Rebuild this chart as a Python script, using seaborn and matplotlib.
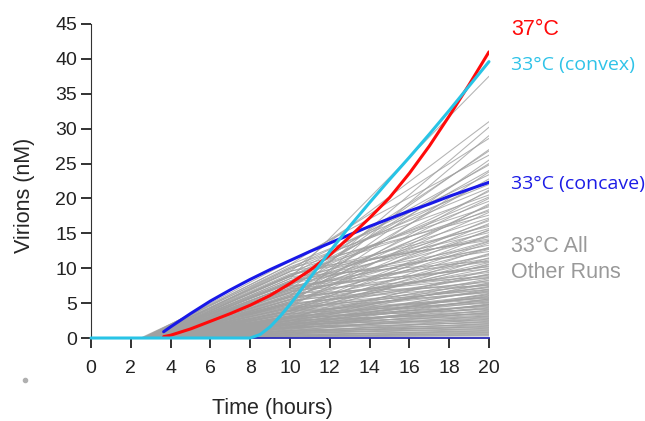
import matplotlib
matplotlib.use("Agg")
import matplotlib.pyplot as plt
import seaborn as sns
import pandas as pd

# highlighted runs (hours, nM)
red_t = [3.65, 4, 5, 6, 7, 8, 9, 10, 11, 12, 13, 14, 15, 16, 17, 18, 19, 20]
red_v = [0.2, 0.4, 1.3, 2.4, 3.5, 4.7, 6.1, 7.8, 9.7, 11.9, 14.5, 17.2, 20.1, 23.6, 27.5, 31.8, 36.3, 41.0]

blue_t = [3.65, 4, 5, 6, 7, 8, 9, 10, 11, 12, 13, 14, 15, 16, 17, 18, 19, 20]
blue_v = [0.9, 1.6, 3.5, 5.3, 6.9, 8.4, 9.8, 11.1, 12.4, 13.6, 14.8, 16.0, 17.1, 18.2, 19.2, 20.3, 21.3, 22.3]

cyan_t = [0, 8, 8.5, 9, 9.5, 10, 11, 12, 13, 14, 15, 16, 17, 18, 19, 20]
cyan_v = [0, 0, 0.5, 1.6, 3.1, 4.8, 8.6, 12.4, 16.0, 19.4, 22.7, 25.9, 29.2, 32.6, 36.1, 39.6]

# other 33C runs: onset time, value at 10 h, value at 20 h
grey_onset = [3.0, 2.8, 3.2, 2.6, 3.4, 2.7, 3.6, 3.0, 3.1, 2.9, 3.3, 2.7,
              2.8, 3.2, 2.7, 3.5, 2.9, 3.8, 2.6, 3.1, 3.4, 2.5, 3.0, 3.3, 3.7, 2.8, 3.1, 3.4, 2.9, 4.0, 3.2, 2.7,
              3.0, 3.5, 2.8, 3.8, 3.1, 2.7, 3.6, 2.9, 4.1, 3.3, 2.8, 3.7, 3.0, 3.4, 4.2, 3.1, 3.6, 2.9, 3.9, 3.2,
              4.3, 3.0, 3.5, 3.1, 2.6, 2.9, 2.7, 2.8, 3.0, 2.9,
              3.4, 3.0, 3.8, 3.2, 3.6, 2.9, 4.0, 3.3, 3.7, 3.0, 4.2, 3.4, 3.6, 3.1, 4.4, 3.5, 3.8, 3.2, 4.5, 3.6,
              3.9, 3.3, 4.6, 3.7, 4.0, 4.3, 3.8, 4.8, 4.2, 4.5, 5.0, 5.2, 2.8, 2.9, 3.0, 3.1, 3.4, 3.6, 2.7, 2.9,
              3.5, 3.0, 3.0, 3.4, 2.8, 3.3, 2.9, 3.2, 2.6, 3.4, 2.8, 3.7, 2.7, 3.3, 2.9, 3.9, 2.9, 3.4, 2.8, 3.1,
              3.6, 3.1, 3.9, 3.3, 3.5, 4.0, 3.2, 4.3, 3.6, 3.9, 3.3, 4.5, 3.4, 4.1, 3.7, 4.6, 3.8, 3.9, 4.7, 4.0,
              4.8, 4.2, 5.0, 4.4, 5.3, 4.9, 5.5, 5.8, 6.0, 6.5, 2.9, 3.0, 3.1, 3.2, 3.3, 3.6, 3.0, 3.8, 3.7, 3.9]
grey_v10 = [8.5, 9.5, 6.0, 10.5, 7.0, 11.0, 5.5, 9.0, 8.0, 10.0, 6.5, 10.5,
            9.8, 7.5, 10.2, 6.2, 8.8, 4.5, 9.5, 7.0, 5.5, 10.0, 8.0, 6.5, 4.8, 9.0, 7.2, 5.8, 8.5, 3.8, 6.8, 9.2,
            6.0, 4.2, 7.8, 3.5, 5.5, 8.2, 4.0, 6.6, 2.8, 5.2, 7.5, 3.6, 6.2, 4.4, 2.5, 5.6, 3.9, 6.8, 3.0, 4.8,
            2.2, 5.0, 3.4, 4.3, 9.6, 7.0, 8.8, 7.4, 5.9, 6.4,
            2.5, 3.6, 1.8, 3.0, 2.2, 3.4, 1.5, 2.6, 2.0, 3.1, 1.4, 2.4, 1.9, 2.8, 1.3, 2.1, 1.7, 2.5, 1.1, 1.8,
            1.4, 2.0, 0.9, 1.5, 1.1, 0.8, 1.0, 0.6, 0.7, 0.5, 0.4, 0.3, 4.2, 3.8, 3.0, 2.6, 1.6, 1.0, 4.6, 3.5,
            5.0, 8.0, 7.5, 5.0, 8.8, 5.2, 8.2, 6.0, 9.0, 5.0, 7.8, 4.0, 8.0, 5.0, 7.2, 3.2, 6.6, 4.6, 7.0, 5.2,
            3.0, 4.8, 2.4, 4.0, 3.2, 2.0, 3.9, 1.6, 2.9, 1.9, 3.2, 1.2, 2.7, 1.6, 2.3, 1.0, 1.9, 1.5, 0.8, 1.3,
            0.7, 1.1, 0.6, 0.8, 0.4, 0.5, 0.3, 0.25, 0.2, 0.15, 5.4, 4.4, 3.9, 2.9, 2.2, 4.0, 5.8, 2.8, 2.2, 1.6]
grey_v20 = [37.5, 31.0, 30.2, 28.6, 27.0, 26.2, 25.5, 24.8, 24.0, 23.4, 22.8, 22.0,
            21.5, 21.0, 20.5, 20.0, 19.6, 19.2, 18.8, 18.4, 18.0, 17.6, 17.2, 16.8, 16.4, 16.0, 15.7, 15.4, 15.1, 14.8, 14.5, 14.2,
            13.9, 13.6, 13.3, 13.0, 12.7, 12.4, 12.1, 11.8, 11.5, 11.2, 10.9, 10.6, 10.3, 10.0, 9.7, 9.4, 9.1, 8.8, 8.5, 8.2,
            7.9, 7.6, 7.3, 7.0, 14.0, 12.9, 11.0, 9.9, 8.6, 7.5,
            6.8, 6.6, 6.4, 6.2, 6.0, 5.8, 5.6, 5.4, 5.2, 5.0, 4.8, 4.6, 4.4, 4.2, 4.0, 3.8, 3.6, 3.4, 3.2, 3.0,
            2.8, 2.6, 2.4, 2.2, 2.0, 1.8, 1.6, 1.4, 1.2, 1.0, 0.8, 0.6, 6.5, 5.5, 4.5, 3.5, 2.5, 1.5, 7.2, 5.1,
            29.0, 26.8, 25.0, 23.8, 22.5, 21.2, 20.2, 19.0, 18.2, 17.0, 16.2, 15.5, 14.6, 13.8, 12.8, 12.0, 11.4, 10.8, 10.2, 9.6,
            9.2, 8.7, 8.3, 7.8, 7.4, 7.0, 6.7, 6.3, 5.9, 5.6, 5.3, 4.9, 4.7, 4.3, 3.9, 3.7, 3.3, 2.9, 2.7, 2.3,
            2.1, 1.9, 1.7, 1.3, 1.1, 0.9, 0.7, 0.5, 0.4, 0.3, 8.0, 6.9, 5.7, 4.1, 3.1, 10.5, 9.0, 7.7, 6.1, 4.8]

rows = []
for i, (t0, a, b) in enumerate(zip(grey_onset, grey_v10, grey_v20)):
    for t, v in [(0, 0), (t0, 0), (10, a), (20, b)]:
        rows.append({"run": i, "time": t, "virions": v})
grey_df = pd.DataFrame(rows)

sns.set_style("ticks")
plt.rcParams["font.family"] = ["Liberation Sans", "DejaVu Sans"]

fig = plt.figure(figsize=(6.45, 4.21), dpi=100)
ax = fig.add_axes([0.1411, 0.1971, 0.617, 0.746])

sns.lineplot(data=grey_df, x="time", y="virions", units="run", estimator=None,
             color="#a0a0a0", lw=0.75, alpha=0.8, sort=False, legend=False, ax=ax)

sns.lineplot(x=blue_t, y=blue_v, color="#1818e8", lw=2.2, ax=ax)
sns.lineplot(x=red_t, y=red_v, color="#ff0a0a", lw=2.2, ax=ax)
sns.lineplot(x=cyan_t, y=cyan_v, color="#28c4e6", lw=2.2, ax=ax, clip_on=False, zorder=5)

ax.set_xlim(0, 20)
ax.set_ylim(0, 45)
ax.set_xticks(range(0, 21, 2))
ax.set_yticks(range(0, 46, 5))
sns.despine(ax=ax)
ax.spines["left"].set_color("#333333")
ax.spines["bottom"].set_color("#2a2ab8")
ax.spines["bottom"].set_linewidth(1.3)
ax.tick_params(axis="both", labelsize=14, colors="#222222", length=7, width=1.3)
ax.tick_params(axis="x", pad=9)
ax.tick_params(axis="y", pad=3)

ax.set_xlabel("Time (hours)", fontsize=15.5)
ax.set_ylabel("Virions (nM)", fontsize=15.5)
ax.xaxis.set_label_coords(0.456, -0.192)
ax.yaxis.set_label_coords(-0.14, 0.455)

ax.text(21.1, 43.4, "37°C", color="#ff0a0a", fontsize=15.5, va="baseline", clip_on=False)
ax.text(21.1, 38.4, "33°C (convex)", color="#2fc3e8", fontsize=14, family=["Open Sans", "DejaVu Sans"],
        va="baseline", clip_on=False)
ax.text(21.1, 21.4, "33°C (concave)", color="#1c1ce6", fontsize=14, family=["Open Sans", "DejaVu Sans"],
        va="baseline", clip_on=False)
ax.text(21.1, 12.3, "33°C All", color="#999999", fontsize=15.5, va="baseline", clip_on=False)
ax.text(21.1, 8.6, "Other Runs", color="#999999", fontsize=15.5, va="baseline", clip_on=False)

ax.plot([0.039], [0.097], "o", ms=3, color="#b0b0b0", transform=fig.transFigure, clip_on=False)

fig.savefig("out.png", dpi=100)
